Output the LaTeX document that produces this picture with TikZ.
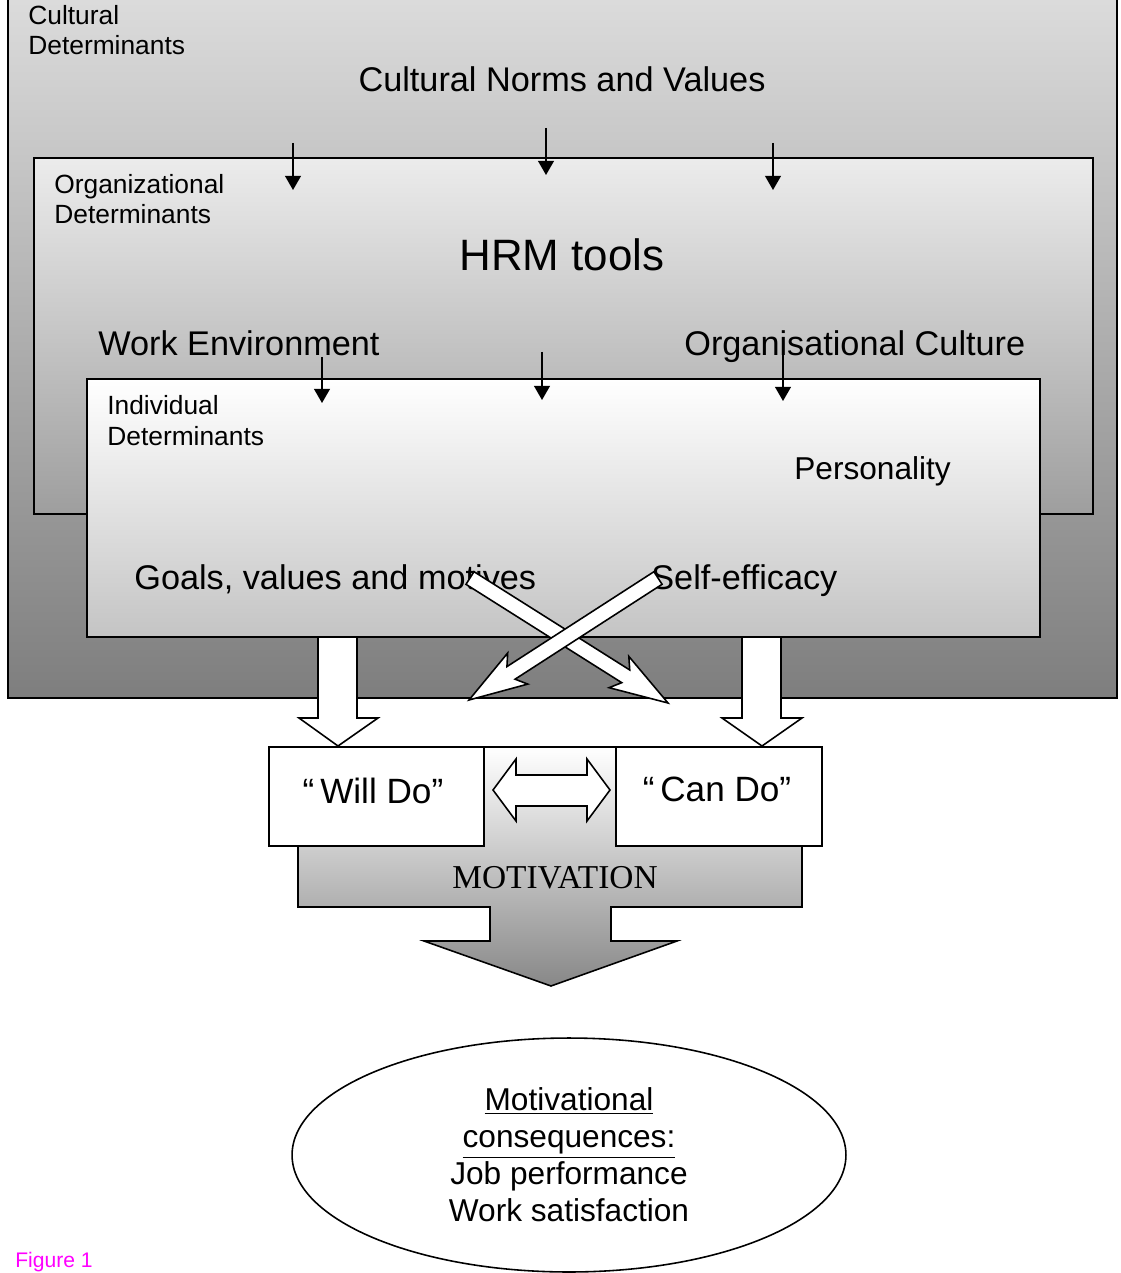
\documentclass[tikz,border=0pt]{standalone}
\usepackage{fontspec}
\setmainfont{Liberation Sans}
\newfontfamily\serifcaps{Liberation Serif}
\usetikzlibrary{arrows.meta, positioning, shapes.geometric, calc}
\definecolor{culttop}{RGB}{222,222,222}
\definecolor{cultbottom}{RGB}{126,126,126}
\definecolor{orgtop}{RGB}{236,236,236}
\definecolor{orgbottom}{RGB}{158,158,158}
\definecolor{indivbottom}{RGB}{196,196,196}
\definecolor{motivbottom}{RGB}{136,136,136}
\definecolor{figpink}{RGB}{255,0,255}

% white block arrow from #1 to #2 (shaft, inset head)
\newcommand{\fatarrow}[2]{%
  \coordinate (#1s) at ($(#2)!1.0cm!(#1)$);
  \coordinate (#1q) at ($(#2)!1.16cm!(#1)$);
  \draw[block] ($(#1)!0.15cm!90:(#2)$) -- ($(#1s)!0.15cm!90:(#2)$)
    -- ($(#1q)!0.37cm!90:(#2)$) -- (#2) -- ($(#1q)!0.37cm!-90:(#2)$)
    -- ($(#1s)!0.15cm!-90:(#2)$) -- ($(#1)!0.15cm!-90:(#2)$) -- cycle;}

\begin{document}
\begin{tikzpicture}[x=0.02cm, y=-0.02cm,
    box/.style={draw, line width=1pt, inner sep=0pt},
    tag/.style={inner sep=0pt, align=left, font=\fontsize{15}{17.6}\selectfont},
    factor/.style={inner sep=0pt, font=\fontsize{19.5}{23}\selectfont},
    thinarrow/.style={-{Triangle[length=8pt, width=9pt]}, line width=0.8pt},
    block/.style={draw, line width=0.9pt, fill=white, line join=miter},
]
\useasboundingbox (0,0) rectangle (1120,1273);
\clip (0,0) rectangle (1120,1273);

% nested determinant boxes
\node[box, top color=culttop, bottom color=cultbottom, minimum width=22.18cm, minimum height=14.4cm] (cult) at (562.5,338) {};
\node[box, top color=orgtop, bottom color=orgbottom, minimum width=21.18cm, minimum height=7.12cm] (org) at (563.5,336) {};
\node[box, top color=white, bottom color=indivbottom, minimum width=19.06cm, minimum height=5.16cm] (indiv) at (563.5,508) {};

% box titles
\node[tag, anchor=base west] (culttag) at (28,55) {Cultural\\Determinants};
\node[tag, anchor=base west] (orgtag) at (54,224) {Organizational\\Determinants};
\node[tag, anchor=base west] (indivtag) at (107,445) {Individual\\Determinants};

% factors
\node[factor, anchor=base] (norms) at (562,92) {Cultural Norms and Values};
\node[inner sep=0pt, anchor=base, font=\fontsize{25}{30}\selectfont] (hrm) at (562,271) {HRM tools};
\node[factor, anchor=base west] (workenv) at (98,356) {Work Environment};
\node[factor, anchor=base west] (orgcult) at (684,356) {Organisational Culture};
\node[factor, anchor=base west, font=\fontsize{18}{22}\selectfont] (person) at (794,479) {Personality};
\node[factor, anchor=base west] (goals) at (134,589) {Goals, values and motives};
\node[factor, anchor=base west] (selfeff) at (651,589) {Self-efficacy};

% small influence arrows
\coordinate (ca1) at (293,143); \coordinate (cb1) at (293,190);
\coordinate (ca2) at (546,128); \coordinate (cb2) at (546,175);
\coordinate (ca3) at (773,143); \coordinate (cb3) at (773,190);
\coordinate (oa1) at (322,357); \coordinate (ob1) at (322,403);
\coordinate (oa2) at (542,352); \coordinate (ob2) at (542,400);
\coordinate (oa3) at (783,355); \coordinate (ob3) at (783,401);
\draw[thinarrow] (ca1) -- (cb1);
\draw[thinarrow] (ca2) -- (cb2);
\draw[thinarrow] (ca3) -- (cb3);
\draw[thinarrow] (oa1) -- (ob1);
\draw[thinarrow] (oa2) -- (ob2);
\draw[thinarrow] (oa3) -- (ob3);

% motivation block arrow
\draw[line width=0.9pt, top color=white, bottom color=motivbottom] (298,747) -- (802,747) -- (802,907) -- (611,907) -- (611,941) -- (677,941) -- (551,986) -- (424,941) -- (490,941) -- (490,907) -- (298,907) -- cycle;
\node[inner sep=0pt, anchor=base, font=\serifcaps\fontsize{19}{22}\selectfont] (motiv) at (555,888) {MOTIVATION};

% down arrows
\draw[block] (318,637) -- (357,637) -- (357,718) -- (378,718) -- (338,746) -- (299,718) -- (318,718) -- cycle;
\draw[block] (742,637) -- (781,637) -- (781,718) -- (802,718) -- (762,746) -- (722,718) -- (742,718) -- cycle;

% crossing arrows
\coordinate (gtail) at (470,578); \coordinate (gtip) at (668,703);
\coordinate (stail) at (658,578); \coordinate (stip) at (469,700);
\fatarrow{gtail}{gtip}
\fatarrow{stail}{stip}

% will do / can do
\node[box, fill=white, minimum width=4.3cm, minimum height=1.98cm] (willdo) at (376.5,796.5) {};
\node[box, fill=white, minimum width=4.12cm, minimum height=1.98cm] (cando) at (719,796.5) {};
\node[factor, anchor=base, font=\fontsize{20}{24}\selectfont] (willtext) at (373,803) {“\,Will Do”};
\node[factor, anchor=base, font=\fontsize{20}{24}\selectfont] (cantext) at (717,801) {“\,Can Do”};
\draw[block] (493,790) -- (516,759) -- (516,775) -- (587,775) -- (587,759) -- (610,790) -- (587,821) -- (587,806) -- (516,806) -- (516,821) -- cycle;

% consequences
\node[draw, ellipse, line width=0.9pt, inner sep=0pt, minimum width=11.08cm, minimum height=4.68cm, align=center, font=\fontsize{18}{21}\selectfont] (conseq) at (569,1155) {\underline{Motivational}\\\underline{consequences:}\\Job performance\\Work satisfaction};

\node[inner sep=0pt, anchor=base west, text=figpink, font=\fontsize{12}{14}\selectfont] (figlabel) at (15,1267) {Figure 1};
\end{tikzpicture}
\end{document}
